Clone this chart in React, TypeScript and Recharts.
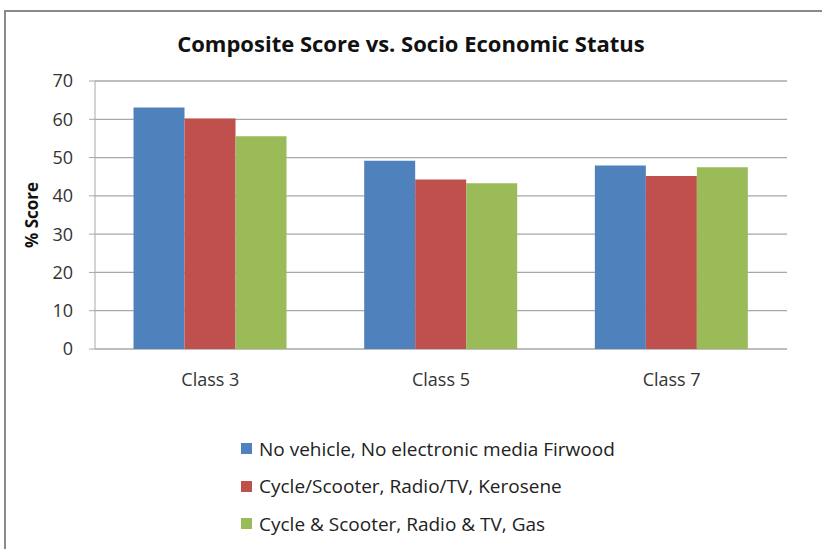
import React from "react";
import {
  BarChart,
  Bar,
  XAxis,
  YAxis,
  CartesianGrid,
  Legend,
} from "recharts";

const classes = ["Class 3", "Class 5", "Class 7"];
const noVehicle = [63.1, 49.2, 47.9];
const cycleOr = [60.2, 44.3, 45.2];
const cycleAnd = [55.6, 43.3, 47.5];
const yTicks = [0, 10, 20, 30, 40, 50, 60, 70];
const boundaryTicks = [0, 1, 2, 3];

const seriesNames = [
  "No vehicle, No electronic media Firwood",
  "Cycle/Scooter, Radio/TV, Kerosene",
  "Cycle & Scooter, Radio & TV, Gas",
];
const seriesColors = ["#4F81BD", "#C0504D", "#9BBB59"];

const data = classes.map((c, i) => ({
  name: c,
  a: noVehicle[i],
  b: cycleOr[i],
  c: cycleAnd[i],
}));

const FONT = "'Open Sans', Lato, sans-serif";

const LegendList = () => (
  <div style={{ fontFamily: FONT, fontSize: 19, color: "#222" }}>
    {seriesNames.map((n, i) => (
      <div key={n} style={{ display: "flex", alignItems: "center", height: 37.5 }}>
        <span
          style={{
            display: "inline-block",
            width: 11,
            height: 11,
            background: seriesColors[i],
            marginRight: 7,
          }}
        />
        <span>{n}</span>
      </div>
    ))}
  </div>
);

export default function App() {
  return (
    <div
      style={{
        position: "absolute",
        left: 0,
        top: 0,
        width: 822,
        height: 549,
        background: "#fff",
        overflow: "hidden",
      }}
    >
      <div
        style={{
          position: "absolute",
          left: 4,
          top: 10,
          width: 840,
          height: 560,
          borderLeft: "2px solid #8a8a8a",
          borderTop: "2px solid #8a8a8a",
        }}
      />
      <div
        style={{
          position: "absolute",
          left: 0,
          top: 28,
          width: 822,
          textAlign: "center",
          fontFamily: FONT,
          fontWeight: 700,
          fontSize: 22,
          color: "#111",
        }}
      >
        Composite Score vs. Socio Economic Status
      </div>
      <div style={{ position: "absolute", left: 0, top: 0 }}>
        <BarChart
          width={822}
          height={549}
          data={data}
          margin={{ top: 81, right: 35, left: 0, bottom: 150 }}
          barCategoryGap="16.7%"
          barGap={0}
        >
          <CartesianGrid
            vertical={false}
            stroke="#a8a8a8"
            strokeWidth={1.3}
            yAxisId="y"
            xAxisId="cat"
          />
          <XAxis
            xAxisId="bnd"
            type="number"
            domain={[0, 3]}
            ticks={boundaryTicks}
            tickFormatter={() => ""}
            height={0}
            tickSize={6}
            stroke="#a8a8a8"
            allowDataOverflow
          />
          <XAxis
            xAxisId="cat"
            dataKey="name"
            height={50}
            axisLine={false}
            tickLine={false}
            tickMargin={18}
            tick={{ fontSize: 18, fill: "#333", fontFamily: FONT }}
          />
          <YAxis
            yAxisId="y"
            domain={[0, 70]}
            ticks={yTicks}
            width={95}
            tickSize={6}
            tickMargin={16}
            stroke="#a8a8a8"
            tick={{ fontSize: 18, fill: "#333", fontFamily: FONT }}
            label={{
              value: "% Score",
              angle: -90,
              position: "insideLeft",
              offset: 32,
              style: {
                textAnchor: "middle",
                fontWeight: 700,
                fontSize: 17,
                fill: "#111",
                fontFamily: FONT,
              },
            }}
          />
          <Legend
            layout="vertical"
            align="center"
            verticalAlign="middle"
            wrapperStyle={{ left: 241, top: 430, width: 460 }}
            content={() => <LegendList />}
          />
          <Bar dataKey="a" name={seriesNames[0]} fill={seriesColors[0]} xAxisId="cat" yAxisId="y" isAnimationActive={false} />
          <Bar dataKey="b" name={seriesNames[1]} fill={seriesColors[1]} xAxisId="cat" yAxisId="y" isAnimationActive={false} />
          <Bar dataKey="c" name={seriesNames[2]} fill={seriesColors[2]} xAxisId="cat" yAxisId="y" isAnimationActive={false} />
        </BarChart>
      </div>
    </div>
  );
}
